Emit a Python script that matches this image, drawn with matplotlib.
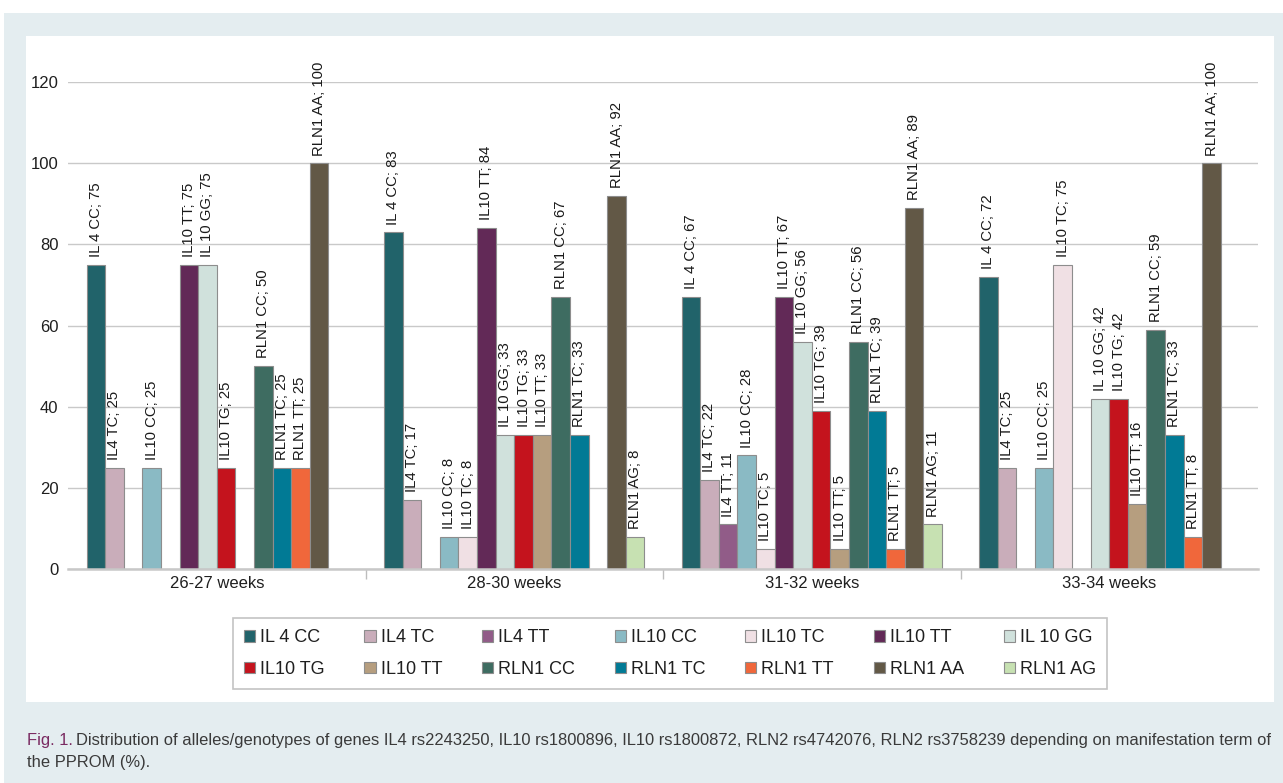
import numpy as np
import matplotlib
matplotlib.use("Agg")
import matplotlib.pyplot as plt
from matplotlib.patches import Rectangle, Patch

# Gestation terms (x categories)
groups = ["26-27 weeks", "28-30 weeks", "31-32 weeks", "33-34 weeks"]

# Genotype frequencies (%) per term; NaN = genotype not observed
il4_cc = [75, 83, 67, 72]
il4_tc = [25, 17, 22, 25]
il4_tt = [np.nan, np.nan, 11, np.nan]
il10_cc = [25, 8, 28, 25]
il10_tc = [np.nan, 8, 5, 75]
il10_tt_a = [75, 84, 67, np.nan]
il10_gg = [75, 33, 56, 42]
il10_tg = [25, 33, 39, 42]
il10_tt_b = [np.nan, 33, 5, 16]
rln1_cc = [50, 67, 56, 59]
rln1_tc = [25, 33, 39, 33]
rln1_tt = [25, np.nan, 5, 8]
rln1_aa = [100, 92, 89, 100]
rln1_ag = [np.nan, 8, 11, np.nan]

series_names = ["IL 4 CC", "IL4 TC", "IL4 TT", "IL10 CC", "IL10 TC", "IL10 TT",
                "IL 10 GG", "IL10 TG", "IL10 TT", "RLN1 CC", "RLN1 TC", "RLN1 TT",
                "RLN1 AA", "RLN1 AG"]
series_values = [il4_cc, il4_tc, il4_tt, il10_cc, il10_tc, il10_tt_a, il10_gg,
                 il10_tg, il10_tt_b, rln1_cc, rln1_tc, rln1_tt, rln1_aa, rln1_ag]
series_colors = ["#21636a", "#c9adba", "#915c88", "#8abac4", "#f0e0e4", "#622957",
                 "#d0e1dc", "#c4131d", "#b69e7f", "#3e6c61", "#017a95", "#f0673b",
                 "#625846", "#c7e1b2"]

W, H = 1283, 783
fig = plt.figure(figsize=(W / 100, H / 100), dpi=100, facecolor="white")

def fx(px):
    return px / W

def fy(py):
    return 1 - py / H

# Page background and white chart panel
fig.patches.append(Rectangle((fx(4), 0), fx(W) - fx(4), fy(13), transform=fig.transFigure,
                             facecolor="#e4edf0", edgecolor="none", zorder=-10))
fig.patches.append(Rectangle((fx(26), fy(702)), fx(1274) - fx(26), fy(36) - fy(702),
                             transform=fig.transFigure, facecolor="white",
                             edgecolor="none", zorder=-9))

ax = fig.add_axes([fx(68), fy(569), fx(1258) - fx(68), fy(82) - fy(569)])
ax.set_facecolor("none")

n = len(series_names)
bar_w = 1.0 / (n + 2)
x = np.arange(len(groups))
label_font = ["Liberation Sans", "DejaVu Sans"]

for k, (name, vals, col) in enumerate(zip(series_names, series_values, series_colors)):
    offs = (k - (n - 1) / 2) * bar_w
    for gi, v in enumerate(vals):
        if np.isnan(v):
            continue
        ax.bar(x[gi] + offs, v, width=bar_w, color=col, edgecolor="#8d8d8d",
               linewidth=0.8, zorder=3)
        ax.annotate(f"{name}; {v:g}", xy=(x[gi] + offs, v), xytext=(0, 5.5),
                    textcoords="offset points", rotation=90, ha="center", va="bottom",
                    fontsize=10.7, family=label_font, color="#1a1a1a",
                    annotation_clip=False, zorder=4)

ax.set_xlim(-0.5, len(groups) - 0.5)
ax.set_ylim(0, 120)
ax.set_yticks(np.arange(0, 121, 20))
ax.grid(axis="y", color="#c9c9c9", linewidth=1.0, zorder=0)
for s in ["left", "right", "top"]:
    ax.spines[s].set_visible(False)
ax.spines["bottom"].set_color("#c8c8c8")
ax.spines["bottom"].set_linewidth(1.8)
ax.spines["bottom"].set_zorder(5)

ax.set_xticks(x)
ax.set_xticklabels(groups)
ax.set_xticks(np.arange(0.5, len(groups) - 1, 1.0), minor=True)
ax.tick_params(axis="x", which="major", length=0, pad=5, labelsize=12, labelcolor="#1f1f1f")
ax.tick_params(axis="x", which="minor", length=7, width=1.0, color="#bdbdbd", direction="out")
ax.tick_params(axis="y", length=0, pad=7, labelsize=12, labelcolor="#1f1f1f")
for lab in ax.get_xticklabels() + ax.get_yticklabels():
    lab.set_family(label_font)

# Legend: two rows of seven, filled row by row
handles = [Patch(facecolor=c, edgecolor="#8d8d8d", linewidth=0.8) for c in series_colors]
ncol = 7
order = []
for c in range(ncol):
    for r in range(2):
        order.append(r * ncol + c)
leg = fig.legend([handles[i] for i in order], [series_names[i] for i in order],
                 loc="center", bbox_to_anchor=(fx(670), fy(653.5)), ncol=ncol,
                 prop={"family": label_font, "size": 13},
                 handlelength=0.62, handleheight=0.62, handletextpad=0.28,
                 columnspacing=2.2, labelspacing=0.8, borderpad=0.6,
                 frameon=True, fancybox=False, edgecolor="#c4c4c4", framealpha=1)
leg.get_frame().set_linewidth(1.2)
for t in leg.get_texts():
    t.set_color("#1f1f1f")

# Caption beneath the panel
cap_font = ["Liberation Sans Narrow", "Liberation Sans", "DejaVu Sans"]
line1 = ("Distribution of alleles/genotypes of genes IL4 rs2243250, IL10 rs1800896, "
         "IL10 rs1800872, RLN2 rs4742076, RLN2 rs3758239 depending on manifestation term of")
line2 = "the PPROM (%)."
x0, x1 = 27, 1273
fs = 12.0
t_fig = fig.text(fx(x0), fy(741), "Fig. 1.", color="#7a2b62", fontsize=fs,
                 family=cap_font, va="center", ha="left")
t_l1 = fig.text(fx(x0), fy(741), line1, color="#3a3a3a", fontsize=fs,
                family=cap_font, va="center", ha="left")
t_l2 = fig.text(fx(x0), fy(762), line2, color="#3a3a3a", fontsize=fs,
                family=cap_font, va="center", ha="left")
renderer = fig.canvas.get_renderer()
for _ in range(3):
    w_fig = t_fig.get_window_extent(renderer).width
    space = fs * 0.3
    t_l1.set_x(fx(x0 + w_fig + space))
    w_l1 = t_l1.get_window_extent(renderer).width
    total = w_fig + space + w_l1
    fs *= (x1 - x0) / total
    for t in (t_fig, t_l1, t_l2):
        t.set_fontsize(fs)
w_fig = t_fig.get_window_extent(renderer).width
t_l1.set_x(fx(x0 + w_fig + fs * 0.3))

fig.savefig("out.png", dpi=100, facecolor="white")
